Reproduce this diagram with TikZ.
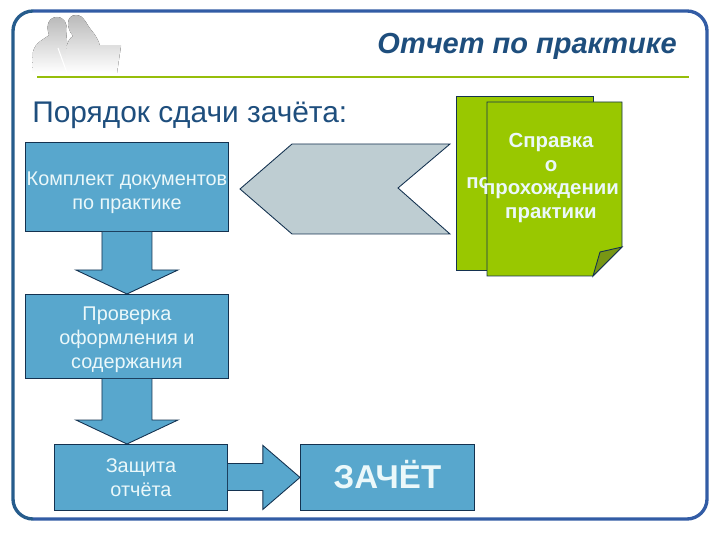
\documentclass[tikz,border=0pt]{standalone}
\usepackage{fontspec}
\setmainfont{Liberation Sans}
\usetikzlibrary{calc}
\definecolor{framedark}{RGB}{38,92,140}
\definecolor{frameblue}{RGB}{50,92,165}
\definecolor{linegreen}{RGB}{150,190,10}
\definecolor{docgreen}{RGB}{153,200,0}
\definecolor{folddark}{RGB}{120,150,20}
\definecolor{boxblue}{RGB}{88,167,205}
\definecolor{edgedark}{RGB}{20,50,80}
\definecolor{headblue}{RGB}{30,78,125}
\definecolor{greyarrow}{RGB}{190,205,210}
\definecolor{boxtext}{RGB}{235,248,250}
\tikzset{
  flowbox/.style={draw=edgedark, fill=boxblue, line width=0.5pt, text=boxtext, align=center, font=\fontsize{11.3}{13.6}\selectfont, anchor=north west, inner sep=0pt},
  flowarrow/.style={draw=edgedark, fill=boxblue, line width=0.5pt},
  docpage/.style={draw=edgedark, fill=docgreen, line width=0.5pt},
  doctext/.style={text=boxtext, align=center, inner sep=0pt, font=\fontsize{11.6}{13.6}\selectfont\bfseries},
  silhouette/.style={top color=black!27, bottom color=white, draw=none}
}
\begin{document}
\begin{tikzpicture}[x=0.02cm, y=-0.02cm]
    \useasboundingbox (0,0) rectangle (720,540);

    % Frame
    \draw[frameblue, line width=1.9pt, rounded corners=0.4cm] (33,11) -- (707,11) -- (707,519) -- (33,519);
    \draw[framedark, line width=1.9pt, rounded corners=0.4cm] (33,519) -- (13,519) -- (13,11) -- (33,11);

    % People
    \fill[silhouette] (32,73) -- (33,52) .. controls (35,42) and (45,39) .. (49,35) .. controls (45,24) and (50,17) .. (57,17) .. controls (64,17) and (68,24) .. (66,30) -- (70,73) -- cycle;
    \fill[silhouette] (66,73) -- (66,50) .. controls (67,42) and (70,38) .. (73,36) .. controls (66,28) and (66,15) .. (76,15) .. controls (84,15) and (86,24) .. (92,31) .. controls (97,37) and (99,42) .. (100,46) -- (121,46) -- (117,73) -- cycle;
    \draw[white, line width=0.6pt] (58,48) -- (67,73);

    % Header
    \node[text=headblue, font=\fontsize{16.5}{16.5}\selectfont\bfseries\itshape, anchor=east, inner sep=0pt] (title) at (677,46) {Отчет по практике};
    \draw[linegreen, line width=1.5pt] (37,77) -- (689,77);
    \node[text=headblue, font=\fontsize{17}{17}\selectfont, anchor=west, inner sep=0pt] (order) at (32,115) {Порядок сдачи зачёта:};

    % Blue boxes
    \node[flowbox, minimum width=203*0.02cm, minimum height=89*0.02cm] (kit) at (25,142) {\rule{0pt}{14pt}Комплект документов\\по практике};
    \node[flowbox, minimum width=203*0.02cm, minimum height=84*0.02cm] (check) at (25,294) {\rule{0pt}{11.5pt}Проверка\\оформления и\\содержания};
    \node[flowbox, minimum width=173*0.02cm, minimum height=66*0.02cm] (defence) at (54,444) {Защита\\отчёта};
    \node[flowbox, minimum width=174*0.02cm, minimum height=66*0.02cm, font=\fontsize{18.8}{18.8}\selectfont\bfseries] (pass) at (300,444) {\rule[-3.4pt]{0pt}{1pt}ЗАЧЁТ};

    % Block arrows between boxes
    \foreach \from/\to in {kit/check, check/defence} {
        \coordinate (tip) at (\from.south |- \to.north);
        \draw[flowarrow] ($(\from.south)+(-25,0)$) -- ($(tip)+(-25,-24)$) -- ($(tip)+(-51,-24)$) -- (tip) -- ($(tip)+(51,-24)$) -- ($(tip)+(25,-24)$) -- ($(\from.south)+(25,0)$);
    }
    \draw[flowarrow] ($(defence.east)+(0,-14)$) -- ($(defence.east)+(35,-14)$) -- ($(defence.east)+(35,-32)$) -- (pass.west) -- ($(defence.east)+(35,32)$) -- ($(defence.east)+(35,13)$) -- ($(defence.east)+(0,13)$);

    % Grey arrow
    \draw[fill=greyarrow, draw=edgedark, line width=0.5pt] (292,144) -- (450,144) -- (398,188) -- (450,234) -- (292,234) -- (240,189) -- cycle;

    % Green pages
    \draw[docpage] (456,96) rectangle (593,270);
    \node[doctext, anchor=west] (behind) at (466,183) {по};
    \draw[docpage] (487,102) -- (622,102) -- (622,247) -- (593,276) -- (487,276) -- cycle;
    \draw[docpage, fill=folddark] (593,276) -- (600,252) -- (622,247) -- cycle;
    \node[doctext] (note) at (551,178) {Справка\\о\\прохождении\\практики};
\end{tikzpicture}
\end{document}
